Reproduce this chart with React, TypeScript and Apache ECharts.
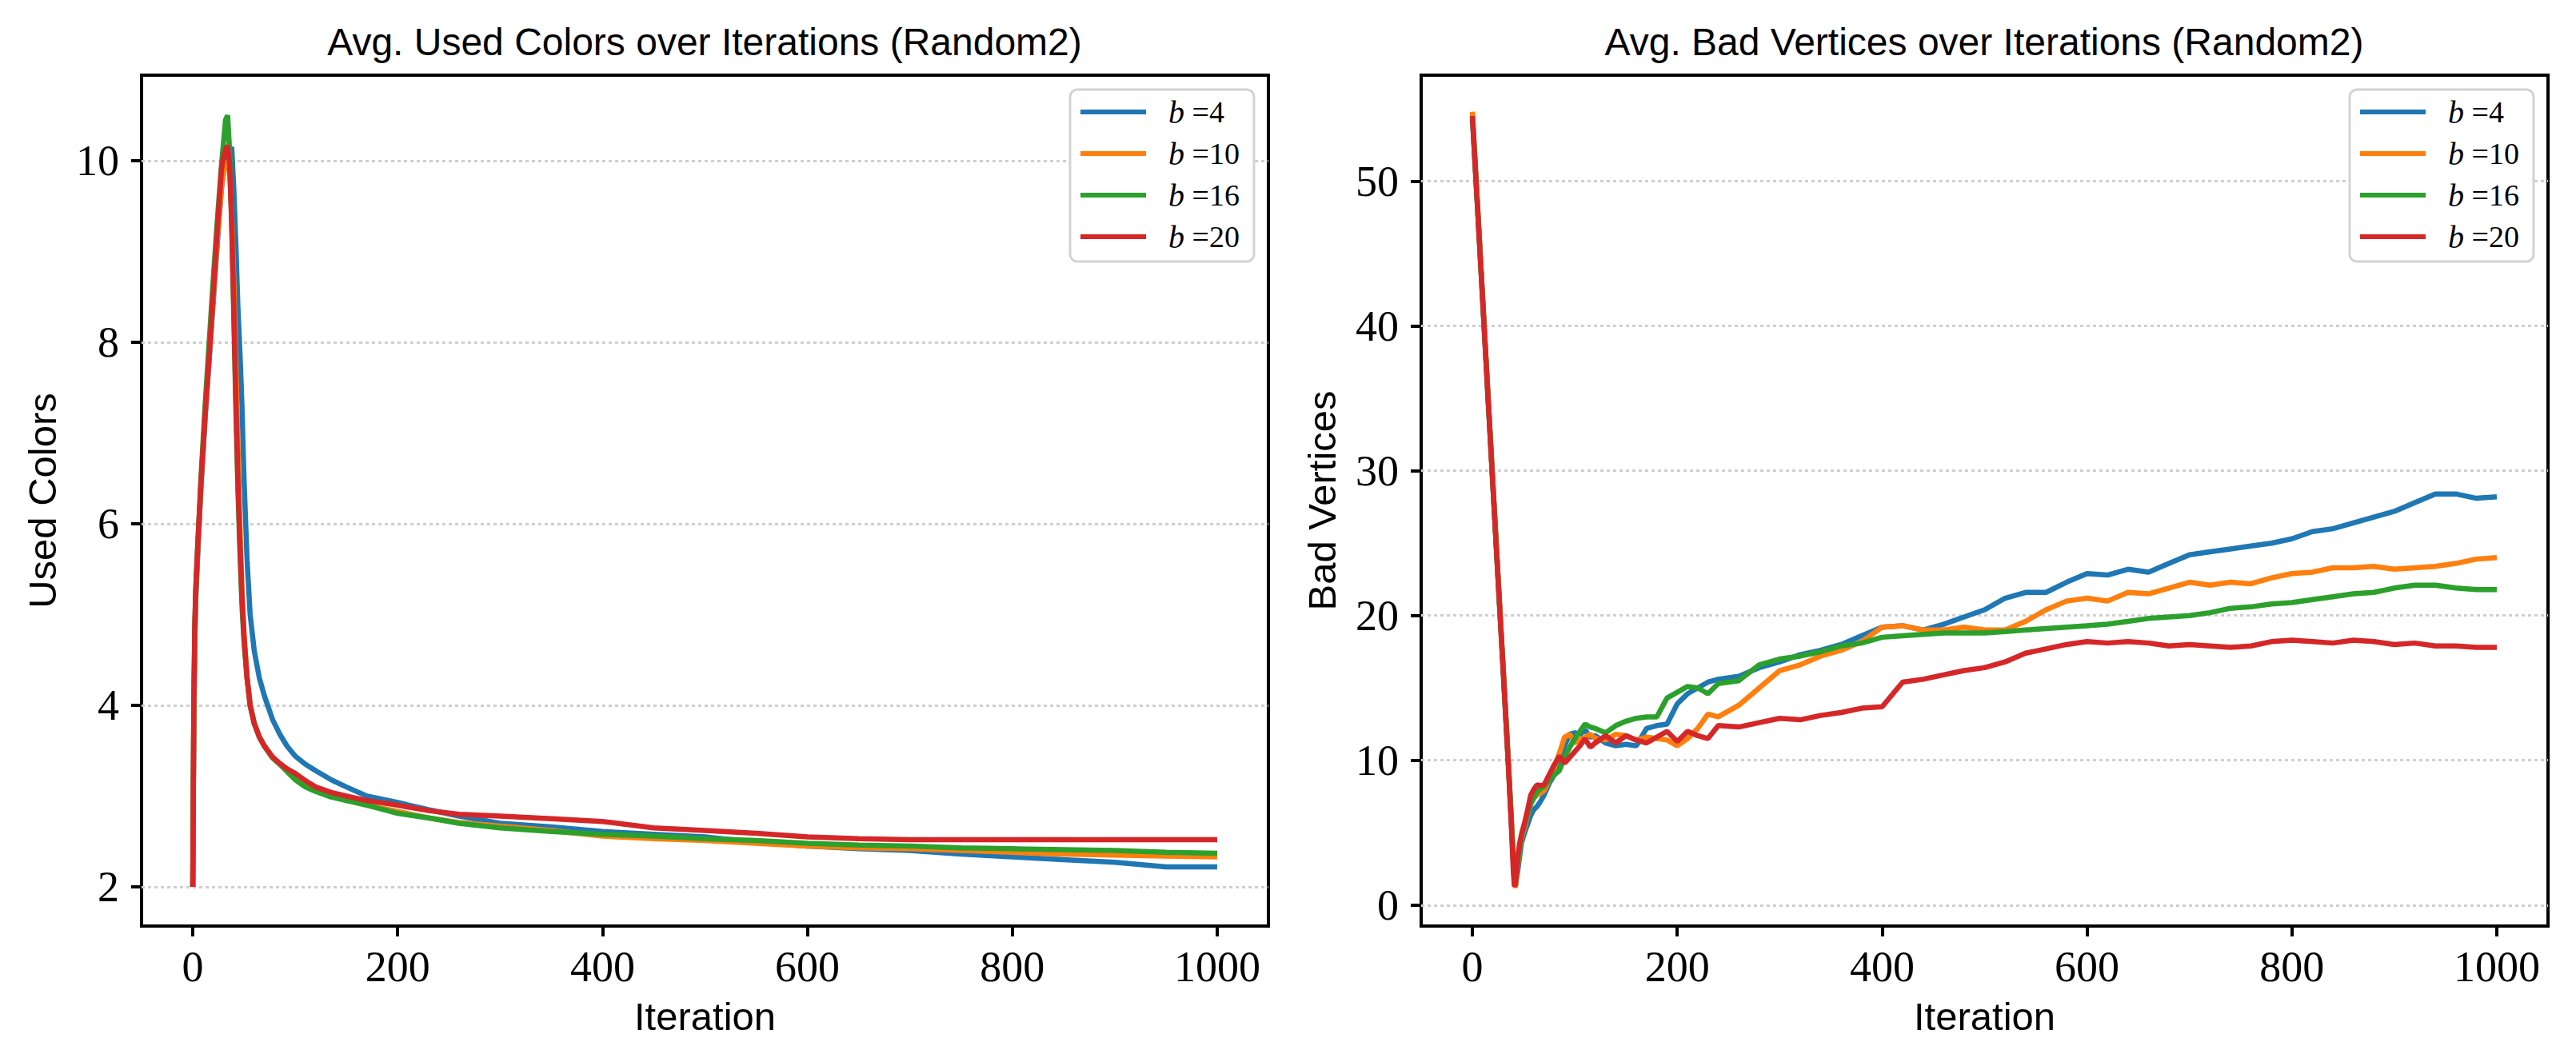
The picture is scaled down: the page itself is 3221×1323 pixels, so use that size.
import React, { useEffect, useRef } from 'react';
import * as echarts from 'echarts';

const seriesNames = ['b =4', 'b =10', 'b =16', 'b =20'];
const lineColors = ['#1f77b4', '#ff7f0e', '#2ca02c', '#d62728'];
const xTicks = [0, 200, 400, 600, 800, 1000];
const colorsYTicks = [2, 4, 6, 8, 10];
const badYTicks = [0, 10, 20, 30, 40, 50];
const titleLeft = 'Avg. Used Colors over Iterations (Random2)';
const titleRight = 'Avg. Bad Vertices over Iterations (Random2)';

// ---------- Left chart: used colors ----------
const colorIters = [0, 1, 2, 3, 5, 8, 12, 16, 20, 24, 28, 30, 32, 34, 36, 38, 40, 42, 44, 46, 48, 50, 53, 56, 60, 65, 70, 78, 85, 92, 100, 110, 120, 135, 150, 170, 200, 230, 260, 300, 350, 400, 450, 500, 550, 600, 650, 700, 750, 800, 850, 900, 950, 1000];
const colorsB4 = [2, 3.8, 4.7, 5.2, 5.7, 6.4, 7.15, 7.8, 8.45, 9.1, 9.7, 9.9, 10.0, 10.05, 10.12, 10.15, 9.7, 9.1, 8.4, 7.9, 7.3, 6.5, 5.6, 5.0, 4.6, 4.3, 4.1, 3.84, 3.68, 3.55, 3.44, 3.35, 3.28, 3.18, 3.1, 3.0, 2.93, 2.85, 2.78, 2.7, 2.66, 2.61, 2.58, 2.55, 2.49, 2.45, 2.42, 2.4, 2.36, 2.33, 2.3, 2.27, 2.22, 2.22];
const colorsB10 = [2, 3.9, 4.8, 5.25, 5.75, 6.45, 7.2, 7.85, 8.5, 9.15, 9.7, 9.85, 9.95, 10.0, 9.9, 9.4, 8.7, 7.8, 6.9, 6.0, 5.3, 4.8, 4.3, 4.0, 3.8, 3.65, 3.55, 3.42, 3.35, 3.28, 3.2, 3.12, 3.06, 3.0, 2.96, 2.9, 2.83, 2.76, 2.71, 2.67, 2.62, 2.56, 2.53, 2.51, 2.48, 2.45, 2.43, 2.42, 2.4, 2.38, 2.36, 2.35, 2.34, 2.33];
const colorsB16 = [2, 4.0, 4.9, 5.3, 5.8, 6.5, 7.3, 8.0, 8.7, 9.35, 9.95, 10.2, 10.45, 10.5, 10.1, 9.3, 8.3, 7.3, 6.4, 5.7, 5.1, 4.7, 4.3, 4.0, 3.8, 3.65, 3.55, 3.42, 3.35, 3.27, 3.18, 3.1, 3.05, 2.99, 2.95, 2.9, 2.81, 2.76, 2.7, 2.65, 2.61, 2.58, 2.56, 2.53, 2.51, 2.48, 2.46, 2.45, 2.43, 2.42, 2.41, 2.4, 2.38, 2.37];
const colorsB20 = [2, 4.0, 4.9, 5.3, 5.8, 6.45, 7.2, 7.85, 8.55, 9.25, 9.9, 10.05, 10.12, 10.17, 9.95, 9.3, 8.4, 7.4, 6.5, 5.8, 5.2, 4.75, 4.3, 4.0, 3.8, 3.65, 3.55, 3.43, 3.36, 3.3, 3.25, 3.17, 3.1, 3.04, 3.0, 2.95, 2.9, 2.84, 2.8, 2.78, 2.75, 2.72, 2.65, 2.62, 2.59, 2.55, 2.53, 2.52, 2.52, 2.52, 2.52, 2.52, 2.52, 2.52];

// ---------- Right chart: bad vertices ----------
const badIters = [0, 5, 10, 15, 20, 25, 30, 35, 38, 40, 41, 42, 44, 46, 48, 51, 54, 57, 60, 63, 66, 70, 75, 80, 85, 90, 95, 100, 105, 110, 115, 120, 130, 140, 150, 160, 170, 180, 190, 200, 210, 220, 230, 240, 260, 280, 300, 320, 340, 360, 380, 400, 420, 440, 460, 480, 500, 520, 540, 560, 580, 600, 620, 640, 660, 680, 700, 720, 740, 760, 780, 800, 820, 840, 860, 880, 900, 920, 940, 960, 980, 1000];
const badB4 = [54.5, 48.3, 41.9, 35.5, 29.1, 22.7, 16.4, 10.0, 6.0, 3.3, 2.1, 1.4, 2.2, 3.3, 4.3, 5.0, 5.6, 6.2, 6.6, 6.8, 7.1, 7.6, 8.4, 9.0, 10.0, 11.0, 11.8, 11.9, 11.8, 12.1, 11.6, 11.7, 11.2, 11.0, 11.1, 11.0, 12.2, 12.4, 12.5, 13.9, 14.6, 15.0, 15.4, 15.6, 15.8, 16.4, 16.8, 17.3, 17.6, 18.0, 18.6, 19.2, 19.3, 19.0, 19.4, 19.9, 20.4, 21.2, 21.6, 21.6, 22.3, 22.9, 22.8, 23.2, 23.0, 23.6, 24.2, 24.4, 24.6, 24.8, 25.0, 25.3, 25.8, 26.0, 26.4, 26.8, 27.2, 27.8, 28.4, 28.4, 28.1, 28.2];
const badB10 = [54.8, 48.4, 42.0, 35.6, 29.2, 22.8, 16.5, 10.0, 6.0, 3.0, 1.5, 1.2, 2.6, 3.8, 4.6, 5.4, 6.2, 7.0, 7.4, 7.6, 7.7, 7.9, 8.6, 9.5, 10.5, 11.6, 11.8, 11.2, 11.4, 11.6, 11.8, 11.5, 11.4, 11.8, 11.7, 11.4, 11.6, 11.5, 11.4, 11.0, 11.5, 12.2, 13.2, 13.0, 13.8, 15.0, 16.2, 16.6, 17.2, 17.6, 18.2, 19.2, 19.3, 19.0, 19.0, 19.2, 19.0, 19.0, 19.6, 20.4, 21.0, 21.2, 21.0, 21.6, 21.5, 21.9, 22.3, 22.1, 22.3, 22.2, 22.6, 22.9, 23.0, 23.3, 23.3, 23.4, 23.2, 23.3, 23.4, 23.6, 23.9, 24.0];
const badB16 = [54.5, 48.2, 41.8, 35.4, 29.0, 22.6, 16.3, 9.9, 5.8, 3.0, 1.8, 1.5, 2.8, 3.9, 4.8, 5.6, 6.3, 7.0, 7.4, 7.8, 8.0, 8.2, 8.6, 9.0, 9.3, 10.2, 10.9, 11.5, 12.0, 12.5, 12.3, 12.2, 11.9, 12.4, 12.7, 12.9, 13.0, 13.0, 14.3, 14.7, 15.1, 15.0, 14.6, 15.3, 15.5, 16.6, 17.0, 17.2, 17.5, 17.9, 18.1, 18.5, 18.6, 18.7, 18.8, 18.8, 18.8, 18.9, 19.0, 19.1, 19.2, 19.3, 19.4, 19.6, 19.8, 19.9, 20.0, 20.2, 20.5, 20.6, 20.8, 20.9, 21.1, 21.3, 21.5, 21.6, 21.9, 22.1, 22.1, 21.9, 21.8, 21.8];
const badB20 = [54.5, 48.2, 41.8, 35.4, 29.0, 22.6, 16.3, 9.8, 5.5, 2.3, 1.3, 1.4, 3.2, 4.2, 4.9, 5.7, 6.6, 7.6, 8.0, 8.3, 8.25, 8.3, 9.0, 9.7, 10.3, 9.8, 10.2, 10.6, 11.0, 11.5, 10.9, 11.2, 11.7, 11.2, 11.7, 11.4, 11.2, 11.6, 12.0, 11.3, 12.0, 11.7, 11.5, 12.4, 12.3, 12.6, 12.9, 12.8, 13.1, 13.3, 13.6, 13.7, 15.4, 15.6, 15.9, 16.2, 16.4, 16.8, 17.4, 17.7, 18.0, 18.2, 18.1, 18.2, 18.1, 17.9, 18.0, 17.9, 17.8, 17.9, 18.2, 18.3, 18.2, 18.1, 18.3, 18.2, 18.0, 18.1, 17.9, 17.9, 17.8, 17.8];

const colorsSeries = [colorsB4, colorsB10, colorsB16, colorsB20];
const badSeries = [badB4, badB10, badB16, badB20];

const SERIF = "'Liberation Serif', 'DejaVu Serif', serif";
const SANS = "'Liberation Sans', Roboto, sans-serif";

function App() {
  const ref = useRef<HTMLDivElement>(null);
  useEffect(() => {
    if (!ref.current) return;
    const chart = echarts.init(ref.current, null, { renderer: 'svg' });

    const grids = [
      { left: 177, top: 94, width: 1409, height: 1064 },
      { left: 1777, top: 94, width: 1409, height: 1064 },
    ];
    const yRanges = [
      { min: 1.568, max: 10.943, ticks: colorsYTicks, name: 'Used Colors' },
      { min: -1.45, max: 57.33, ticks: badYTicks, name: 'Bad Vertices' },
    ];
    const plain = (v: number) => String(v);

    const xAxis = grids.map((_, k) => ({
      type: 'value',
      gridIndex: k,
      min: -50,
      max: 1050,
      axisLine: { show: true, onZero: false, lineStyle: { color: '#000', width: 4 } },
      axisTick: { show: true, length: 13, lineStyle: { color: '#000', width: 4 }, customValues: xTicks },
      axisLabel: { show: true, customValues: xTicks, formatter: plain, fontFamily: SERIF, fontSize: 54, color: '#000', margin: 24 },
      splitLine: { show: false },
      name: 'Iteration',
      nameLocation: 'middle',
      nameGap: 88,
      nameTextStyle: { fontFamily: SANS, fontSize: 49, color: '#000' },
    }));

    const yAxis = yRanges.map((r, k) => ({
      type: 'value',
      gridIndex: k,
      min: r.min,
      max: r.max,
      axisLine: { show: true, onZero: false, lineStyle: { color: '#000', width: 4 } },
      axisTick: { show: true, length: 13, lineStyle: { color: '#000', width: 4 }, customValues: r.ticks },
      axisLabel: { show: true, customValues: r.ticks, formatter: plain, fontFamily: SERIF, fontSize: 54, color: '#000', margin: 28 },
      splitLine: { show: false },
      name: r.name,
      nameLocation: 'middle',
      nameGap: 100,
      nameRotate: 90,
      nameTextStyle: { fontFamily: SANS, fontSize: 49, color: '#000' },
    }));

    const series: any[] = [];
    [0, 1].forEach((k) => {
      const iters = k === 0 ? colorIters : badIters;
      const vals = k === 0 ? colorsSeries : badSeries;
      const ticks = k === 0 ? colorsYTicks : badYTicks;
      seriesNames.forEach((name, i) => {
        const s: any = {
          type: 'line',
          name,
          xAxisIndex: k,
          yAxisIndex: k,
          data: iters.map((x, j) => [x, vals[i][j]]),
          showSymbol: false,
          symbol: 'none',
          lineStyle: { color: lineColors[i], width: 6.5 },
          itemStyle: { color: lineColors[i] },
          z: 3,
        };
        if (i === 0) {
          s.markLine = {
            silent: true,
            symbol: 'none',
            z: 1,
            label: { show: false },
            lineStyle: { color: '#cfcfcf', width: 3, type: [4, 4] },
            data: ticks.map((v) => ({ yAxis: v })),
          };
        }
        series.push(s);
      });
    });

    const legendRich = {
      i: { fontFamily: SERIF, fontStyle: 'italic', fontSize: 40, color: '#000', lineHeight: 40 },
      n: { fontFamily: SERIF, fontSize: 38, color: '#000', lineHeight: 40 },
    };

    const legend = [1338, 2938].map((left) => ({
      data: seriesNames,
      orient: 'vertical',
      left,
      top: 112,
      itemWidth: 82,
      itemHeight: 6,
      itemGap: 12,
      icon: 'rect',
      padding: [8, 18, 11, 13],
      borderColor: '#d3d3d3',
      borderWidth: 3,
      borderRadius: 9,
      backgroundColor: '#ffffff',
      selectedMode: false,
      formatter: (name: string) => `{i|b}{n| =${name.split('=')[1]}}`,
      textStyle: { fontFamily: SERIF, fontSize: 38, color: '#000', lineHeight: 40, padding: [0, 0, 0, 23], rich: legendRich },
    }));

    const titleStyle = { fontFamily: SANS, fontSize: 48, fontWeight: 'normal', color: '#000' };

    chart.setOption({
      animation: false,
      backgroundColor: '#ffffff',
      title: [
        { text: titleLeft, left: 881, top: 28, textAlign: 'center', padding: 0, textStyle: titleStyle },
        { text: titleRight, left: 2481, top: 28, textAlign: 'center', padding: 0, textStyle: titleStyle },
      ],
      grid: grids.map((g) => ({ ...g, show: true, borderColor: '#000', borderWidth: 4, backgroundColor: 'transparent', containLabel: false })),
      xAxis,
      yAxis,
      legend,
      series,
    });

    return () => chart.dispose();
  }, []);

  return <div ref={ref} style={{ position: 'fixed', left: 0, top: 0, width: 3221, height: 1323, background: '#fff' }} />;
}

export default App;
